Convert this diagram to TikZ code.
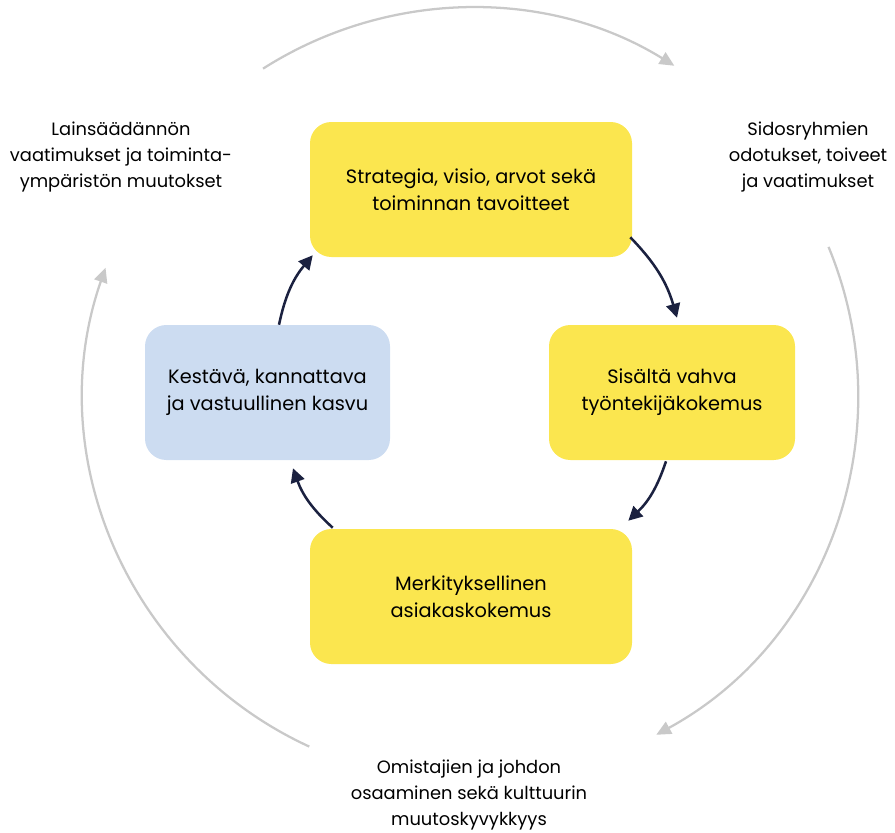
\documentclass[tikz,border=0pt]{standalone}
\usepackage{fontspec}
\setmainfont{Poppins}
\usetikzlibrary{arrows.meta,calc}
\definecolor{boxyellow}{HTML}{FBE64F}
\definecolor{boxblue}{HTML}{CCDCF1}
\definecolor{navy}{HTML}{1B2140}
\definecolor{ringgray}{HTML}{C9C9C9}
\tikzset{
  box/.style={rectangle, rounded corners=16pt, minimum width=241.5pt, minimum height=101.25pt,
    align=center, font=\fontsize{14.5}{20.25}\selectfont, text=black, inner sep=0pt},
  ybox/.style={box, fill=boxyellow},
  bbox/.style={box, fill=boxblue, minimum width=183.75pt},
  rbox/.style={ybox, minimum width=184.5pt},
  outer/.style={align=center, font=\fontsize{13.4}{19.5}\selectfont, text=black, inner sep=0pt},
  flow/.style={draw=navy, line width=1.9pt, -{Triangle[length=10.5pt,width=10.5pt]}},
  ring/.style={draw=ringgray, line width=1.7pt, -{Triangle[length=11pt,width=10pt]}}
}
\begin{document}
\begin{tikzpicture}[x=0.75pt,y=0.75pt]
\useasboundingbox (0,0) rectangle (895,-832);
% boxes
\node[ybox] (top) at (471,-189.5) {Strategia, visio, arvot sekä\\toiminnan tavoitteet};
\node[rbox] (right) at (672,-392.5) {Sisältä vahva\\työntekijäkokemus};
\node[ybox] (bottom) at (471,-596.5) {Merkityksellinen\\asiakaskokemus};
\node[bbox] (left) at (267.5,-392.5) {Kestävä, kannattava\\ja vastuullinen kasvu};
% outer texts
\node[outer] (law) at (121,-157) {Lainsäädännön\\vaatimukset ja toiminta-\\ympäristön muutokset};
\node[outer] (stake) at (808,-157) {Sidosryhmien\\odotukset, toiveet\\ja vaatimukset};
\node[outer] (owners) at (469,-795) {Omistajien ja johdon\\osaaminen sekä kulttuurin\\muutoskyvykkyys};
% inner flow arrows
\draw[flow] ($(top.south east)+(-2,20)$) to[bend left=14] ($(right.north)+(5,7)$);
\draw[flow] ($(right.south)+(-6,-1)$) to[bend left=14] ($(bottom.north east)+(-4,8)$);
\draw[flow] ($(bottom.north west)+(23,1)$) to[bend left=14] ($(left.south)+(25.5,-8)$);
\draw[flow] ($(left.north)+(11.5,0)$) to[bend left=14] ($(top.south west)+(3,2)$);
% outer ring
\coordinate (c) at (471,-395);
\draw[ring] (c) ++(122.5:290.25pt) arc[start angle=122.5, end angle=58.3, radius=290.25pt];
\draw[ring] (c) ++(22.5:290.25pt) arc[start angle=22.5, end angle=-61.4, radius=290.25pt];
\draw[ring] (c) ++(-114.7:290.25pt) arc[start angle=-114.7, end angle=-199.2, radius=290.25pt];
\end{tikzpicture}
\end{document}
